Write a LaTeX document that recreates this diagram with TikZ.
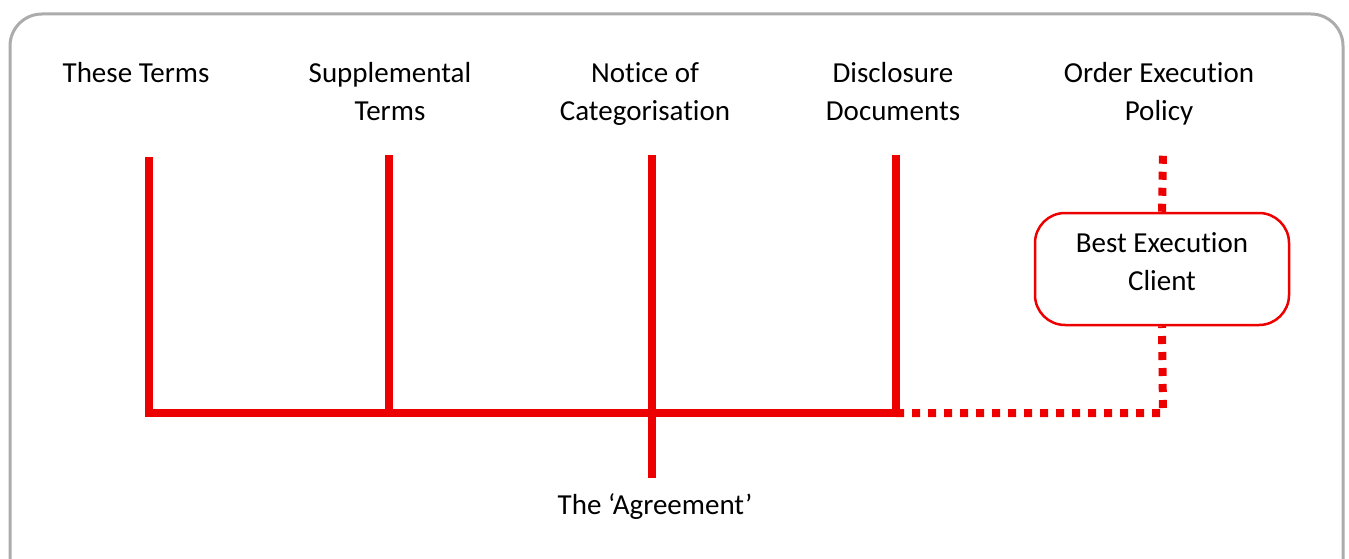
\documentclass[tikz,border=0pt]{standalone}
\usepackage{fontspec}
\setmainfont{Carlito}[Ligatures={TeX,NoCommon}]

\definecolor{linkred}{RGB}{236,0,0}
\definecolor{framegray}{RGB}{172,172,172}

\begin{document}
\begin{tikzpicture}[x=1pt,y=-1pt,
	lbl/.style={align=center,font=\fontsize{29}{38}\selectfont},
	toplbl/.style={lbl,anchor=north},
	solidlink/.style={line width=8pt,color=linkred,line join=miter},
	dotlink/.style={line width=8pt,color=linkred,dash pattern=on 8pt off 8pt},
	]
	\useasboundingbox (0,0) rectangle (1349,559);
	\draw[framegray,line width=3pt,rounded corners=32pt] (10,14) rectangle (1343,620);

	\node[toplbl] (T1) at (136,59) {These Terms};
	\node[toplbl] (T2) at (390,59) {Supplemental\\Terms};
	\node[toplbl] (T3) at (645,59) {Notice of\\Categorisation};
	\node[toplbl] (T4) at (893,59) {Disclosure\\Documents};
	\node[toplbl] (T5) at (1159,59) {Order Execution\\Policy};
	\node[lbl] (A) at (655,507) {The `Agreement'};

	% text sits a little above the middle of the box
	\node[lbl,draw=linkred,line width=2.5pt,rounded corners=30pt,
		minimum width=254pt,minimum height=112pt] (B) at (1162,269)
		{Best Execution\\Client\rule[-14pt]{0pt}{14pt}};

	\coordinate (t1) at (149,157);
	\coordinate (t2) at (389,155);
	\coordinate (t3) at (652,155);
	\coordinate (t4) at (896,155);
	\coordinate (t5) at (1163,153);
	\coordinate (b1) at (149,413);
	\coordinate (b4) at (896,413);
	\coordinate (b5) at (1163,413);
	\coordinate (a) at (652,478);

	\draw [solidlink] (t1) -- (b1) -- (b4) -- (t4);
	\draw [solidlink] (t2) -- (t2 |- b1);
	\draw [solidlink] (t3) -- (a);

	\draw [dotlink] (b4) -- (b5) -- (B.south);
	\draw [dotlink] (B.north) -- (t5);

\end{tikzpicture}
\end{document}
